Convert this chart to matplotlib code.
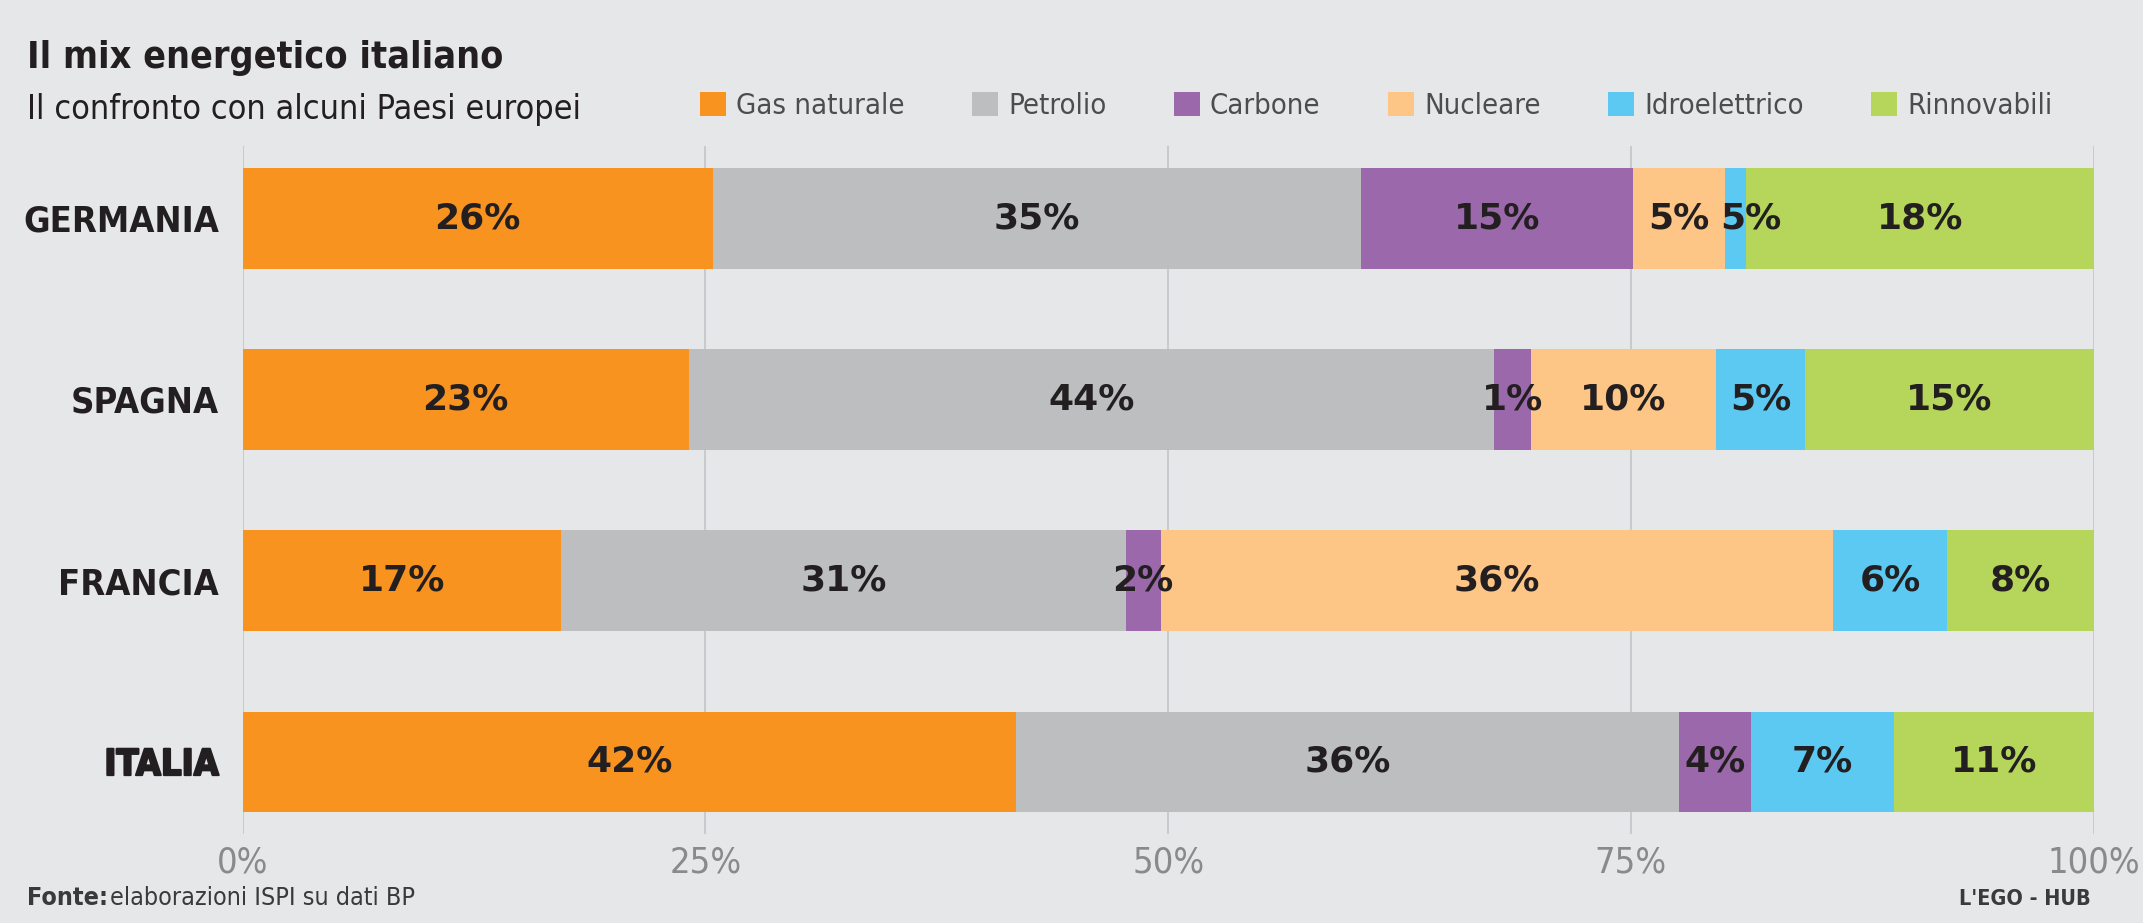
import matplotlib
matplotlib.use('Agg')
import matplotlib.pyplot as plt
import matplotlib.patheffects as pe
import numpy as np

plt.rcParams['font.family'] = ['DejaVu Sans']
plt.rcParams['font.stretch'] = 'condensed'

# Data
countries = ['GERMANIA', 'SPAGNA', 'FRANCIA', 'ITALIA']
sources = ['Gas naturale', 'Petrolio', 'Carbone', 'Nucleare', 'Idroelettrico', 'Rinnovabili']
colors = ['#f7931e', '#bcbec0', '#9a68ab', '#fdc586', '#5cc9f2', '#b5d55b']

# drawn segment widths (% of the bar), per source
gas = [25.4, 24.1, 17.2, 41.8]
petrolio = [35.0, 43.5, 30.5, 35.8]
carbone = [14.7, 2.0, 1.9, 3.9]
nucleare = [5.0, 10.0, 36.3, 0.0]
idro = [1.1, 4.8, 6.2, 7.7]
rinnovabili = [18.8, 15.6, 7.9, 10.8]

# printed labels on the segments
lab_gas = ['26%', '23%', '17%', '42%']
lab_petrolio = ['35%', '44%', '31%', '36%']
lab_carbone = ['15%', '1%', '2%', '4%']
lab_nucleare = ['5%', '10%', '36%', '']
lab_idro = ['5%', '5%', '6%', '7%']
lab_rinnovabili = ['18%', '15%', '8%', '11%']

xticks = [0, 25, 50, 75, 100]
xticklabels = ['0%', '25%', '50%', '75%', '100%']

values = [gas, petrolio, carbone, nucleare, idro, rinnovabili]
labels = [lab_gas, lab_petrolio, lab_carbone, lab_nucleare, lab_idro, lab_rinnovabili]

bg = '#e6e7e9'
fig = plt.figure(figsize=(21.43, 9.23), dpi=100, facecolor=bg)
ax = fig.add_axes([0.1132, 0.0964, 0.8638, 0.7454])
ax.set_facecolor(bg)

y = np.arange(len(countries))
left = np.zeros(len(countries))
for name, vals, labs, col in zip(sources, values, labels, colors):
    vals = np.array(vals)
    ax.barh(y, vals, left=left, height=0.553, color=col, label=name, zorder=2)
    for i, (v, t) in enumerate(zip(vals, labs)):
        if not t:
            continue
        xc = left[i] + v / 2
        if v < 1.5:
            xc += 0.8
        ax.text(xc, y[i], t, ha='center', va='center', fontsize=26, stretch='normal',
                fontweight='bold', color='#231f20', zorder=3)
    left += vals

ax.set_xlim(0, 100)
ax.set_ylim(3.40, -0.40)
ax.set_xticks(xticks)
ax.set_xticklabels(xticklabels, fontsize=26, color='#8a8a8c')
ax.set_yticks(y)
ax.set_yticklabels(countries, fontsize=26, fontweight='bold', color='#231f20')
ax.tick_params(axis='x', length=0, pad=8)
ax.tick_params(axis='y', length=0, pad=17)
ax.get_yticklabels()[-1].set_path_effects([pe.withStroke(linewidth=1.5, foreground='#231f20')])
for s in ax.spines.values():
    s.set_visible(False)
ax.grid(axis='x', color='#c4c5c8', linewidth=1.2, zorder=0)
ax.set_axisbelow(True)

# titles
fig.text(0.0126, 0.926, 'Il mix energetico italiano', fontsize=27, fontweight='bold',
         color='#231f20', va='baseline')
fig.text(0.0126, 0.871, 'Il confronto con alcuni Paesi europei', fontsize=24.5,
         color='#231f20', va='baseline')

handles, hl = ax.get_legend_handles_labels()
fig.legend(handles, hl, ncol=6, loc='center left', bbox_to_anchor=(0.3265, 0.885),
           frameon=False, fontsize=21, handlelength=0.9, handleheight=0.9,
           handletextpad=0.35, columnspacing=2.3, borderaxespad=0, borderpad=0,
           labelcolor='#4d4d4f')

# footer
t1 = fig.text(0.0126, 0.02, 'Fonte:', fontsize=18, fontweight='bold', color='#3a3a3c',
              va='baseline')
fig.canvas.draw()
bb = t1.get_window_extent().transformed(fig.transFigure.inverted())
fig.text(bb.x1 + 0.001, 0.02, 'elaborazioni ISPI su dati BP', fontsize=18,
         color='#3a3a3c', va='baseline')
fig.text(0.9757, 0.02, "L'EGO - HUB", fontsize=15.5, fontweight='bold', color='#3a3a3c',
         ha='right', va='baseline')

fig.savefig('out.png', dpi=100, facecolor=bg)
